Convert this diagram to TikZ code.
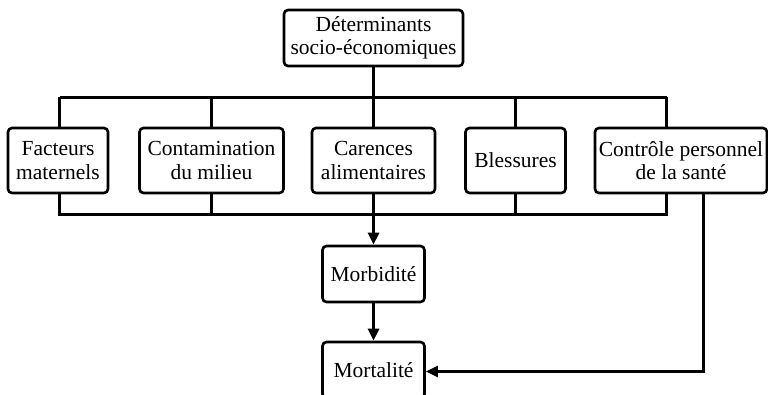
\documentclass[tikz,border=0pt]{standalone}
\usepackage{fontspec}
\setmainfont{Liberation Serif}
\usetikzlibrary{arrows.meta}
\begin{document}
\begin{tikzpicture}[x=1pt,y=-1pt,
  box/.style={draw,line width=2.6pt,rounded corners=4pt,align=center,
    inner sep=0pt,font=\fontsize{21.5}{23.5}\selectfont},
  wire/.style={draw,line width=2.6pt},
  arr/.style={wire,-{Triangle[length=12pt,width=11pt]}}]
\useasboundingbox (0,0) rectangle (768,395);
\clip (0,0) rectangle (768,395);

% top node
\node[box,minimum width=179pt,minimum height=56pt] (det) at (373.5,38) {Déterminants\\socio-économiques};

% row of factor boxes
\node[box,minimum width=100pt,minimum height=65pt] (fac) at (58,160.5) {Facteurs\\maternels};
\node[box,minimum width=144pt,minimum height=65pt] (con) at (211.5,160.5) {Contamination\\du milieu};
\node[box,minimum width=123pt,minimum height=65pt] (car) at (373.5,160.5) {Carences\\alimentaires};
\node[box,minimum width=100pt,minimum height=65pt] (ble) at (515.5,160.5) {Blessures};
\node[box,minimum width=172pt,minimum height=65pt] (ctl) at (681,160.5) {Contrôle personnel\\de la santé};

% outcomes
\node[box,minimum width=102pt,minimum height=56pt] (mor) at (373.5,274) {Morbidité};
\node[box,minimum width=102pt,minimum height=56pt] (mrt) at (373.5,370) {Mortalité};

% bus coordinates
\coordinate (tl) at (59.5,97.5);
\coordinate (tr) at (666.5,97.5);
\coordinate (bl) at (59.5,214.5);
\coordinate (br) at (666.5,214.5);
\coordinate (cx) at (703.5,371.5);

% upper distribution bus
\draw[wire] (det.south) -- (det.south |- tl);
\draw[wire] (tl) -- (tr);
\draw[wire] (fac.north -| tl) -- (tl);
\draw[wire] (con.north) -- (con.north |- tl);
\draw[wire] (car.north) -- (car.north |- tl);
\draw[wire] (ble.north) -- (ble.north |- tl);
\draw[wire] (ctl.north -| tr) -- (tr);

% lower collecting bus
\draw[wire] (fac.south -| bl) -- (bl) -- (br) -- (ctl.south -| br);
\draw[wire] (con.south) -- (con.south |- bl);
\draw[wire] (car.south) -- (car.south |- bl);
\draw[wire] (ble.south) -- (ble.south |- bl);

% arrows to outcomes
\draw[arr] (car.south |- bl) -- (mor.north);
\draw[arr] (mor.south) -- (mrt.north);
\draw[arr] (ctl.south -| cx) -- (cx) -- (mrt.east |- cx);
\end{tikzpicture}
\end{document}
